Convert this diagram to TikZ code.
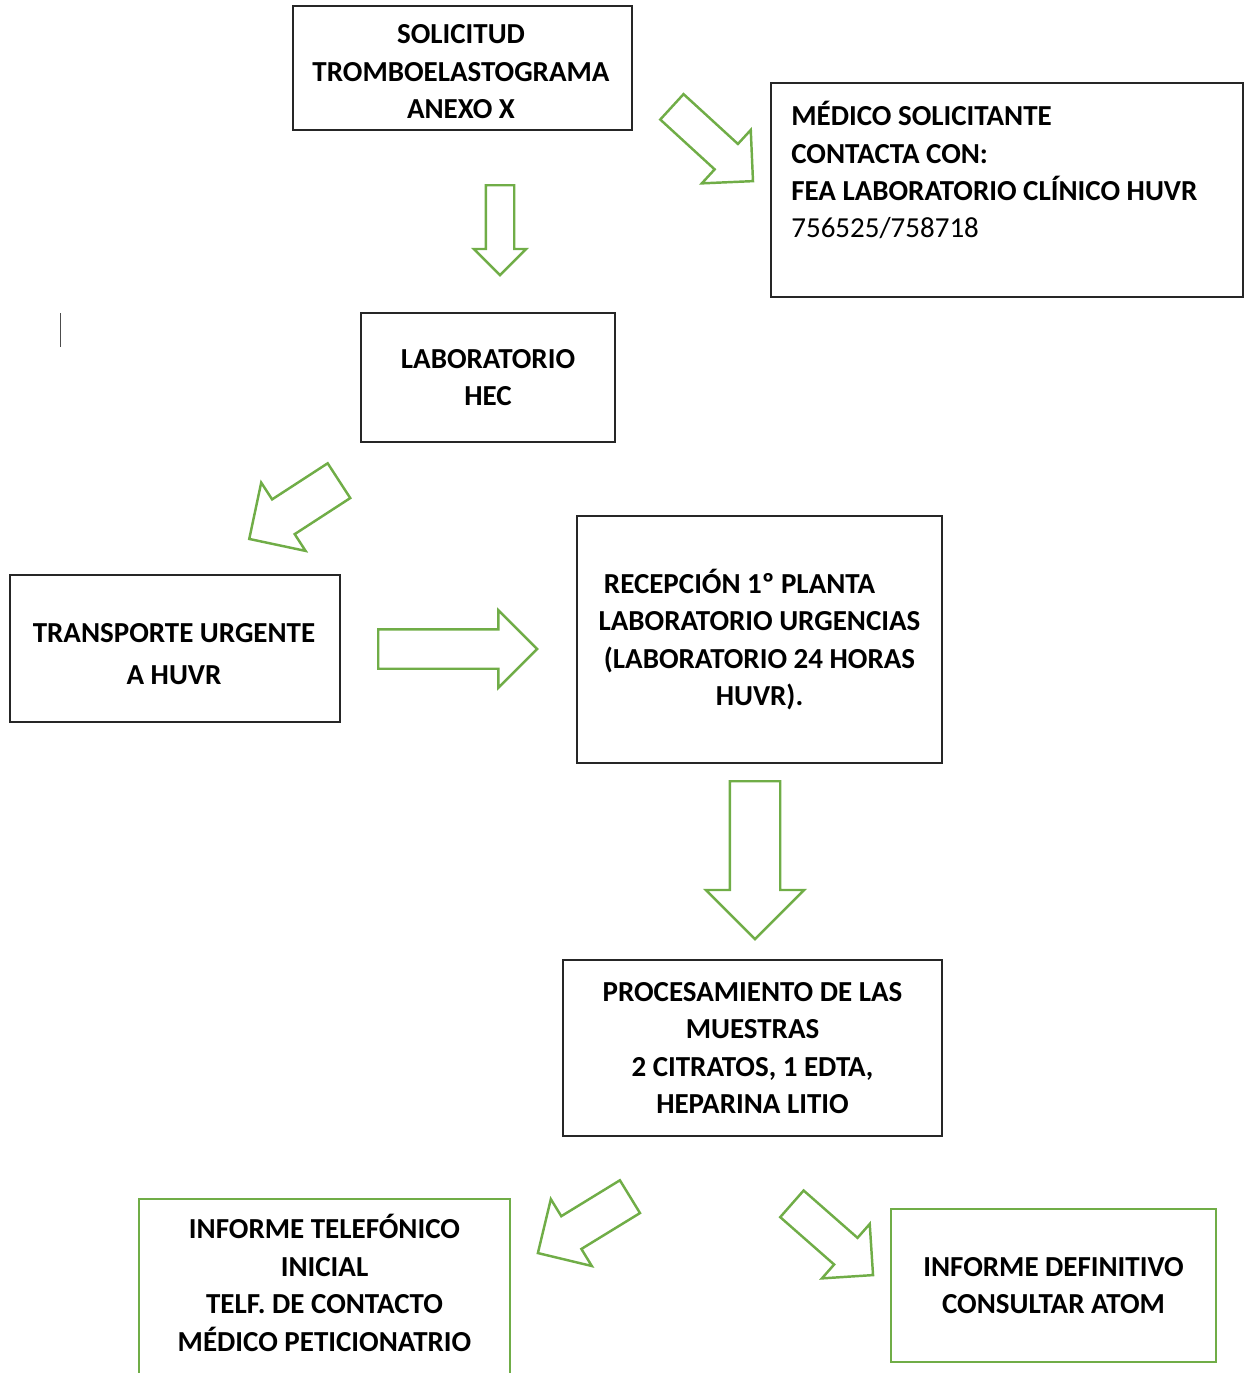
\documentclass[tikz,border=0pt]{standalone}
\usepackage{fontspec}
\setmainfont{Carlito}
\usetikzlibrary{shapes.arrows}
\definecolor{wordgreen}{RGB}{112,173,71}
\definecolor{boxline}{RGB}{38,38,38}

\tikzset{
  boxfont/.style={font=\fontsize{16.5}{21.3}\selectfont\bfseries},
  box/.style={draw=boxline, line width=1.1pt, align=center, inner sep=0pt, boxfont},
  greenbox/.style={box, draw=wordgreen},
  boxtext/.style={inner sep=0pt, boxfont},
  blockarrow/.style={single arrow, draw=wordgreen, line width=1.4pt,
    single arrow tip angle=90, inner xsep=0pt, anchor=tail}
}

\begin{document}
\begin{tikzpicture}[x=0.02cm, y=-0.02cm]
  \useasboundingbox (0,0) rectangle (1244,1373);

  % Boxes, top half
  \node[box, minimum width=6.78cm, minimum height=2.48cm] (solicitud) at (462.5,68) {};
  \node[boxtext, align=center] (solicitudtext) at (461,72) {SOLICITUD\\TROMBOELASTOGRAMA\\ANEXO X};
  \node[box, minimum width=9.44cm, minimum height=4.28cm] (medico) at (1007,190) {};
  \node[boxtext, anchor=north west, align=left] (medicotext) at (791,101) {MÉDICO SOLICITANTE\\CONTACTA CON:\\FEA LABORATORIO CLÍNICO HUVR\\\mdseries 756525/758718};
  \node[box, minimum width=5.08cm, minimum height=2.58cm] (hec) at (488,377.5) {LABORATORIO\\HEC};
  \node[box, minimum width=6.6cm, minimum height=2.94cm] (transporte) at (175,648.5) {};
  \node[boxtext, align=center, font=\fontsize{16.5}{23.9}\selectfont\bfseries] (transportetext) at (174,654) {TRANSPORTE URGENTE\\A HUVR};
  \node[box, minimum width=7.3cm, minimum height=4.94cm] (recepcion) at (759.5,639.5) {RECEPCIÓN 1º PLANTA\hspace*{0.8cm}\\LABORATORIO URGENCIAS\\(LABORATORIO 24 HORAS\\HUVR).};

  % Boxes, bottom half
  \node[box, minimum width=7.58cm, minimum height=3.52cm] (procesamiento) at (752.5,1048) {PROCESAMIENTO DE LAS\\MUESTRAS\\2 CITRATOS, 1 EDTA,\\HEPARINA LITIO};
  \node[greenbox, minimum width=7.42cm, minimum height=4.22cm] (telefonico) at (324.5,1304.5) {};
  \node[boxtext, align=center] (telefonicotext) at (324.5,1283) {INFORME TELEFÓNICO\\INICIAL\\TELF. DE CONTACTO\\MÉDICO PETICIONATRIO};
  \node[greenbox, minimum width=6.5cm, minimum height=3.06cm] (definitivo) at (1053.5,1285.5) {INFORME DEFINITIVO\\CONSULTAR ATOM};

  % Block arrows
  \node[blockarrow, rotate=-90, minimum height=1.8cm, inner ysep=0.26cm, single arrow head extend=0.24cm] (solhec) at (500,184) {}; % solicitud to hec
  \node[blockarrow, rotate=-42.5, minimum height=2.2cm, inner ysep=0.32cm, single arrow head extend=0.38cm] (solmed) at (671,106) {}; % solicitud to medico
  \node[blockarrow, rotate=-147, minimum height=2.14cm, inner ysep=0.39cm, single arrow head extend=0.4cm] (hectra) at (340,480) {}; % hec to transporte
  \node[blockarrow, minimum height=3.18cm, inner ysep=0.37cm, single arrow head extend=0.38cm] (trarec) at (377,649) {}; % transporte to recepcion
  \node[blockarrow, rotate=-90, minimum height=3.16cm, inner ysep=0.48cm, single arrow head extend=0.48cm] (recpro) at (755,780) {}; % recepcion to procesamiento
  \node[blockarrow, rotate=-148.5, minimum height=2.16cm, inner ysep=0.36cm, single arrow head extend=0.4cm] (protel) at (631,1196) {}; % procesamiento to telefonico
  \node[blockarrow, rotate=-41.3, minimum height=2.16cm, inner ysep=0.33cm, single arrow head extend=0.37cm] (prodef) at (791,1203) {}; % procesamiento to definitivo

  % Stray mark
  \draw[black!70, line width=0.5pt] (60,313) -- (60,347);
\end{tikzpicture}
\end{document}
